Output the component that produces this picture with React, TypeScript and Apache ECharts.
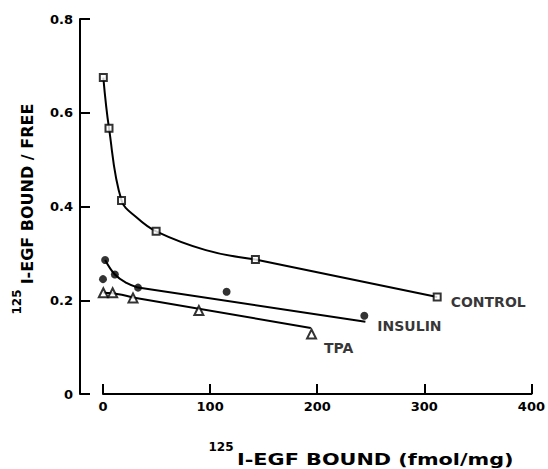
import React, { useEffect, useRef } from "react";
import * as echarts from "echarts";

const FONT = '"DejaVu Sans", "Liberation Sans", sans-serif';

// Measured points (x: 125I-EGF bound fmol/mg, y: bound/free)
const controlPts: [number, number][] = [
  [0.3, 0.675], [5.6, 0.567], [17.3, 0.413], [49.6, 0.347], [142.3, 0.287], [312, 0.207],
];
const insulinPts: [number, number][] = [
  [0, 0.245], [2, 0.286], [11.1, 0.255], [32.7, 0.227], [115.4, 0.218], [244, 0.167],
];
const tpaPts: [number, number][] = [
  [0.3, 0.216], [9, 0.216], [28, 0.205], [89.5, 0.178], [194.7, 0.128],
];

// Fitted curves: curved part + straight part
const controlCurve: [number, number][] = [
  [0.3, 0.675], [5.6, 0.567], [17.3, 0.413], [31.2, 0.377],
  [49.6, 0.347], [96, 0.307], [142.3, 0.287],
];
const controlStraight: [number, number][] = [[142.3, 0.287], [312, 0.207]];
const insulinCurve: [number, number][] = [
  [2, 0.286], [11.1, 0.255], [21.9, 0.237], [32.7, 0.227],
];
const insulinStraight: [number, number][] = [[32.7, 0.227], [245, 0.154]];
const tpaCurve: [number, number][] = [[0.3, 0.216], [9, 0.215], [28, 0.206]];
const tpaStraight: [number, number][] = [[28, 0.206], [194, 0.141]];

const seriesNames = ["CONTROL", "INSULIN", "TPA"];
const xTickValues = [0, 100, 200, 300, 400];
const yTickValues = [0, 0.2, 0.4, 0.6, 0.8];

const xTitleSup = "125";
const xTitleMain = "I-EGF BOUND (fmol/mg)";
const yTitleSup = "125";
const yTitleMain = "I-EGF BOUND / FREE";

function withEndLabel(
  pts: [number, number][],
  text: string,
  distance: number,
  offsetY: number
) {
  return pts.map((p, i) =>
    i === pts.length - 1
      ? {
          value: p,
          label: {
            show: true,
            formatter: text,
            position: "right",
            distance,
            offset: [0, offsetY],
            color: "#000",
            fontFamily: FONT,
            fontWeight: "bold",
            fontSize: 14,
          },
        }
      : { value: p }
  );
}

export default function App() {
  const ref = useRef<HTMLDivElement>(null);

  useEffect(() => {
    if (!ref.current) return;
    const chart = echarts.init(ref.current, undefined, { renderer: "svg" });

    const lineStyle = { color: "#000", width: 2 };
    const fitSeries = (data: [number, number][], smooth: number | false) => ({
      type: "line",
      data,
      symbol: "none",
      smooth,
      lineStyle,
      z: 2,
      silent: true,
    });

    const option: any = {
      animation: false,
      backgroundColor: "#fff",
      grid: { left: 103, right: 13, top: 19, bottom: 75 },
      xAxis: {
        type: "value",
        min: xTickValues[0],
        max: xTickValues[xTickValues.length - 1],
        interval: 100,
        axisLine: { show: true, onZero: false, lineStyle: { color: "#000", width: 2 } },
        axisTick: { show: true, inside: true, length: 10, lineStyle: { color: "#000", width: 2 } },
        axisLabel: {
          margin: 6,
          color: "#000",
          fontFamily: FONT,
          fontWeight: "bold",
          fontSize: 13,
        },
        splitLine: { show: false },
      },
      yAxis: {
        type: "value",
        min: yTickValues[0],
        max: yTickValues[yTickValues.length - 1],
        interval: 0.2,
        offset: 23,
        axisLine: { show: true, onZero: false, lineStyle: { color: "#000", width: 2 } },
        axisTick: { show: true, inside: true, length: 10, lineStyle: { color: "#000", width: 2 } },
        axisLabel: {
          margin: 7,
          color: "#000",
          fontFamily: FONT,
          fontWeight: "bold",
          fontSize: 13,
          formatter: (v: number) => (v === 0 ? "0" : v.toFixed(1)),
        },
        splitLine: { show: false },
      },
      series: [
        fitSeries(controlCurve, 0.4),
        fitSeries(controlStraight, false),
        fitSeries(insulinCurve, 0.4),
        fitSeries(insulinStraight, false),
        fitSeries(tpaCurve, 0.4),
        fitSeries(tpaStraight, false),
        {
          type: "scatter",
          name: seriesNames[0],
          data: withEndLabel(controlPts, seriesNames[0], 9, 5),
          symbol: "rect",
          symbolSize: 7,
          itemStyle: { color: "#fff", borderColor: "#000", borderWidth: 2 },
          z: 5,
        },
        {
          type: "scatter",
          name: seriesNames[1],
          data: withEndLabel(insulinPts, seriesNames[1], 9, 10),
          symbol: "circle",
          symbolSize: 8,
          itemStyle: { color: "#000" },
          z: 5,
        },
        {
          type: "scatter",
          name: seriesNames[2],
          data: withEndLabel(tpaPts, seriesNames[2], 7, 14),
          symbol: "triangle",
          symbolSize: 9,
          itemStyle: { color: "#fff", borderColor: "#000", borderWidth: 2 },
          z: 5,
        },
      ],
      graphic: [
        {
          type: "text",
          x: 27,
          y: 194,
          rotation: Math.PI / 2,
          style: {
            text: yTitleMain,
            fill: "#000",
            fontFamily: FONT,
            fontWeight: "bold",
            fontSize: 16,
            align: "center",
            verticalAlign: "middle",
          },
        },
        {
          type: "text",
          x: 17,
          y: 302,
          rotation: Math.PI / 2,
          style: {
            text: yTitleSup,
            fill: "#000",
            fontFamily: FONT,
            fontWeight: "bold",
            fontSize: 12,
            align: "center",
            verticalAlign: "middle",
          },
        },
        {
          type: "text",
          x: 221,
          y: 447,
          style: {
            text: xTitleSup,
            fill: "#000",
            fontFamily: FONT,
            fontWeight: "bold",
            fontSize: 12,
            align: "center",
            verticalAlign: "middle",
          },
        },
        {
          type: "text",
          x: 237,
          y: 459,
          scaleX: 1.3,
          style: {
            text: xTitleMain,
            fill: "#000",
            fontFamily: FONT,
            fontWeight: "bold",
            fontSize: 16,
            align: "left",
            verticalAlign: "middle",
          },
        },
      ],
    };

    chart.setOption(option);
    return () => chart.dispose();
  }, []);

  return (
    <div
      ref={ref}
      style={{ position: "fixed", left: 0, top: 0, width: 548, height: 469, background: "#fff" }}
    />
  );
}
